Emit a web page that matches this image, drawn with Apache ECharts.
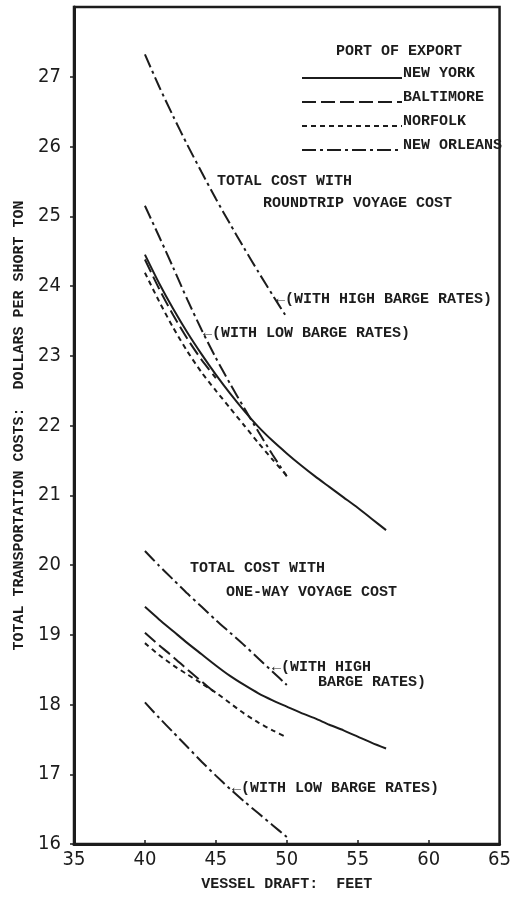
<!DOCTYPE html>
<html>
<head>
<meta charset="utf-8">
<script src="https://cdn.jsdelivr.net/npm/echarts@6/dist/echarts.min.js"></script>
<style>
html,body{margin:0;padding:0;background:#fff;}
#chart{width:514px;height:897px;}
</style>
</head>
<body>
<div id="chart"></div>
<script>
// ---- data (vessel draft in feet, dollars per short ton) ----
const draft40to57 = [40,41,42,43,44,45,46,47,48,49,50,51,52,53,54,55,56,57];
const draft40to50 = [40,41,42,43,44,45,46,47,48,49,50];
const draft40to45 = [40,41,42,43,44,45];

// Total cost with roundtrip voyage cost
const nyRound      = [24.45,24.04,23.67,23.33,23.02,22.73,22.46,22.21,21.98,21.78,21.60,21.43,21.27,21.12,20.97,20.82,20.66,20.50];
const baltRound    = [24.38,23.96,23.58,23.24,22.94,22.68];
const norfRound    = [24.19,23.78,23.40,23.06,22.76,22.50,22.25,22.00,21.75,21.51,21.28];
const noHighRound  = [27.32,26.86,26.43,26.02,25.63,25.25,24.89,24.54,24.20,23.87,23.55];
const noLowRound   = [25.15,24.71,24.26,23.80,23.37,22.97,22.60,22.25,21.91,21.58,21.27];

// Total cost with one-way voyage cost
const nyOne        = [19.40,19.22,19.05,18.88,18.72,18.56,18.41,18.28,18.16,18.06,17.97,17.88,17.80,17.71,17.63,17.54,17.45,17.37];
const baltOne      = [19.03,18.85,18.68,18.50,18.33,18.16];
const norfOne      = [18.88,18.71,18.56,18.43,18.30,18.17,18.02,17.87,17.74,17.63,17.53];
const noHighOne    = [20.20,19.99,19.79,19.59,19.40,19.21,19.03,18.85,18.66,18.47,18.28];
const noLowOne     = [18.03,17.81,17.60,17.39,17.18,16.98,16.79,16.61,16.44,16.27,16.10];

const ports = ['NEW YORK','BALTIMORE','NORFOLK','NEW ORLEANS'];
const xTicks = [35,40,45,50,55,60,65];
const yTicks = [16,17,18,19,20,21,22,23,24,25,26,27];

// ---- styles ----
const INK = '#1c1c1c';
const dashStyle = {
  'NEW YORK': 'solid',
  'BALTIMORE': [14,5],
  'NORFOLK': [5,4],
  'NEW ORLEANS': [14,4,3,4]
};
const MONO = "'Liberation Mono','DejaVu Sans Mono',monospace";
const NARROW = "'Liberation Sans Narrow','DejaVu Sans Condensed','Liberation Sans',sans-serif";

function zip(xs, ys){ return xs.map((x,i)=>[x, ys[i]]); }
function mk(name, xs, ys){
  return {
    name: name, type: 'line', data: zip(xs, ys),
    showSymbol: false, symbol: 'none', smooth: 0.25,
    lineStyle: {color: INK, width: 2, type: dashStyle[name]},
    itemStyle: {color: INK},
    emphasis: {disabled: true},
    z: 3
  };
}

const series = [
  mk('NEW YORK', draft40to57, nyRound),
  mk('BALTIMORE', draft40to45, baltRound),
  mk('NORFOLK', draft40to50, norfRound),
  mk('NEW ORLEANS', draft40to50, noHighRound),
  mk('NEW ORLEANS', draft40to50, noLowRound),
  mk('NEW YORK', draft40to57, nyOne),
  mk('BALTIMORE', draft40to45, baltOne),
  mk('NORFOLK', draft40to50, norfOne),
  mk('NEW ORLEANS', draft40to50, noHighOne),
  mk('NEW ORLEANS', draft40to50, noLowOne)
];

const txt = (x, y, s) => ({
  type: 'text', left: x, top: y,
  style: {text: s, font: "bold 15px " + MONO, fill: INK}
});

const chart = echarts.init(document.getElementById('chart'), null, {renderer: 'canvas'});
chart.setOption({
  animation: false,
  backgroundColor: '#fff',
  grid: {left: 74, right: 11, top: 7, bottom: 52, show: true, borderColor: INK, borderWidth: 2.5},
  legend: {
    orient: 'vertical', left: 296, top: 61,
    data: ports, itemWidth: 100, itemHeight: 10, itemGap: 8,
    selectedMode: false,
    itemStyle: {opacity: 0},
    formatter: '{t|{name}}',
    textStyle: {
      color: INK,
      rich: {t: {fontFamily: MONO, fontWeight: 'bold', fontSize: 15, color: INK, padding: [0,0,9,-4]}}
    }
  },
  xAxis: {
    type: 'value', min: xTicks[0], max: xTicks[xTicks.length-1], interval: 5,
    name: 'VESSEL DRAFT:  FEET', nameLocation: 'middle', nameGap: 33,
    nameTextStyle: {fontFamily: MONO, fontWeight: 'bold', fontSize: 15, color: INK},
    axisLine: {lineStyle: {color: INK, width: 3}},
    axisTick: {show: true, length: 4, inside: true, lineStyle: {color: INK, width: 1.5}},
    axisLabel: {fontFamily: NARROW, fontSize: 20, color: INK, margin: 6},
    splitLine: {show: false}
  },
  yAxis: {
    type: 'value', min: 16, max: 28, interval: 1,
    name: 'TOTAL TRANSPORTATION COSTS:  DOLLARS PER SHORT TON', nameLocation: 'middle', nameGap: 47,
    nameRotate: 90,
    nameTextStyle: {fontFamily: MONO, fontWeight: 'bold', fontSize: 15, color: INK},
    axisLine: {lineStyle: {color: INK, width: 3}},
    axisTick: {
      show: true, length: 4, lineStyle: {color: INK, width: 1.5},
      customValues: yTicks
    },
    axisLabel: {
      fontFamily: NARROW, fontSize: 20, color: INK, margin: 13,
      formatter: v => (yTicks.indexOf(v) >= 0 ? String(v) : '')
    },
    splitLine: {show: false}
  },
  graphic: [
    txt(336, 44, 'PORT OF EXPORT'),
    txt(217, 174, 'TOTAL COST WITH'),
    txt(263, 196, 'ROUNDTRIP VOYAGE COST'),
    txt(276, 292, '←(WITH HIGH BARGE RATES)'),
    txt(203, 326, '←(WITH LOW BARGE RATES)'),
    txt(190, 561, 'TOTAL COST WITH'),
    txt(226, 585, 'ONE-WAY VOYAGE COST'),
    txt(272, 660, '←(WITH HIGH'),
    txt(318, 675, 'BARGE RATES)'),
    txt(232, 781, '←(WITH LOW BARGE RATES)')
  ],
  series: series
});
</script>
</body>
</html>
